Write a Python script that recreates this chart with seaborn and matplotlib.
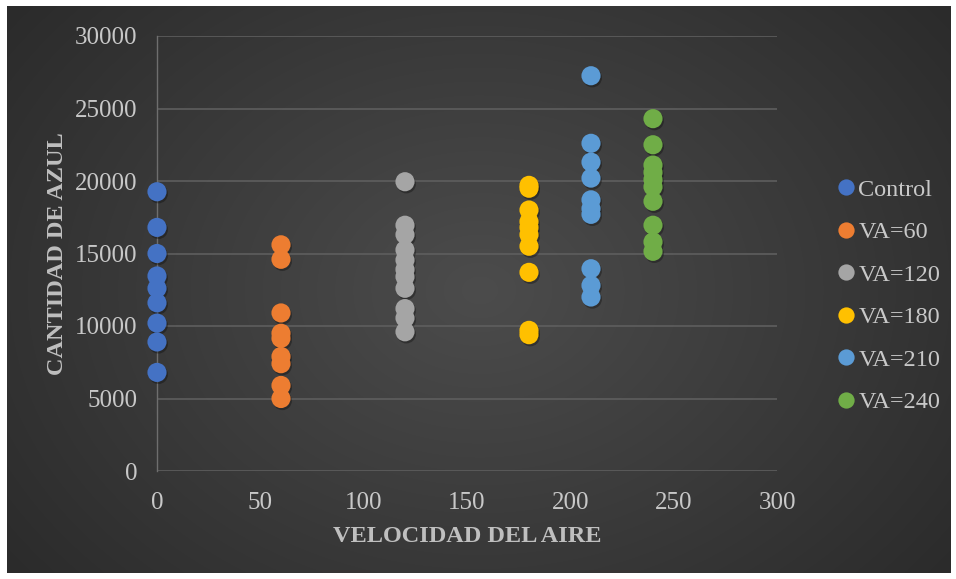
import numpy as np
import pandas as pd
import matplotlib
matplotlib.use("Agg")
import matplotlib.pyplot as plt
import matplotlib.patheffects as pe
import seaborn as sns

# Air speed groups and measured blue quantity per sample
groups = ["Control", "VA=60", "VA=120", "VA=180", "VA=210", "VA=240"]
speeds = [0, 60, 120, 180, 210, 240]
control = [19260, 16800, 15000, 13450, 12600, 11600, 10200, 8900, 6800]
va60 = [15600, 14600, 10900, 9500, 9150, 7900, 7400, 5900, 5000]
va120 = [19950, 16950, 16300, 15250, 14550, 13900, 13400, 12600, 11200, 10550, 9600]
va180 = [19700, 19500, 18000, 17200, 16800, 16300, 15500, 13700, 9700, 9400]
va210 = [27260, 22600, 21300, 20200, 18700, 18100, 17700, 13950, 12800, 12000]
va240 = [24300, 22500, 21100, 20600, 20100, 19600, 18600, 16950, 15800, 15150]
colors = ["#4472C4", "#ED7D31", "#A5A5A5", "#FFC000", "#5B9BD5", "#70AD47"]

values = [control, va60, va120, va180, va210, va240]
rows = []
for g, s, vals in zip(groups, speeds, values):
    for v in vals:
        rows.append({"grupo": g, "velocidad": s, "azul": v})
df = pd.DataFrame(rows)

sns.set_theme(style="white")
plt.rcParams["font.family"] = ["Liberation Serif", "DejaVu Serif"]

W, H = 956, 579
fig = plt.figure(figsize=(W / 100, H / 100), dpi=100)
fig.patch.set_facecolor("white")

# dark radial-gradient panel behind the chart
bg = fig.add_axes([7 / W, 1 - 573 / H, 943 / W, 567 / H])
bg.set_axis_off()
yy, xx = np.mgrid[0:300, 0:500]
cx, cy = 250, 150
r = np.sqrt(((xx - cx) / 260.0) ** 2 + ((yy - cy) / 200.0) ** 2)
r = np.clip(r, 0, 1.4) / 1.4
inner = np.array([0x4c, 0x4c, 0x4c]) / 255
outer = np.array([0x26, 0x26, 0x26]) / 255
img = inner[None, None, :] * (1 - r[..., None]) + outer[None, None, :] * r[..., None]
bg.imshow(img, aspect="auto", extent=[0, 1, 0, 1], interpolation="bilinear")
bg.set_xlim(0, 1)
bg.set_ylim(0, 1)

ax = fig.add_axes([157 / W, 1 - 471 / H, 620 / W, 435 / H])
ax.patch.set_alpha(0)

sns.scatterplot(data=df, x="velocidad", y="azul", hue="grupo", hue_order=groups,
                palette=colors, s=190, edgecolor="none", linewidth=0, ax=ax,
                legend=True, zorder=3)
for coll in ax.collections:
    coll.set_path_effects([pe.SimplePatchShadow(offset=(1, -1.5), alpha=0.3,
                                                shadow_rgbFace="black"),
                           pe.Normal()])
    coll.set_clip_on(False)

ax.set_xlim(0, 300)
ax.set_ylim(0, 30000)
ax.set_xticks(np.arange(0, 301, 50))
ax.set_yticks(np.arange(0, 30001, 5000))
ax.yaxis.grid(True, color="#5e5e5e", linewidth=1.2)
ax.xaxis.grid(False)
for side in ["top", "right", "bottom"]:
    ax.spines[side].set_visible(False)
ax.spines["left"].set_color("#6e6e6e")
ax.spines["left"].set_linewidth(1.0)
ax.tick_params(axis="both", length=0, labelsize=18, labelcolor="#c8c8c8")
ax.tick_params(axis="y", pad=14)
ax.tick_params(axis="x", pad=15)
ax.set_xlabel("VELOCIDAD DEL AIRE", fontsize=17.5, fontweight="bold", color="#bfbfbf", labelpad=9)
ax.set_ylabel("CANTIDAD DE AZUL", fontsize=17.5, fontweight="bold", color="#bfbfbf", labelpad=5)

handles, labels = ax.get_legend_handles_labels()
ax.get_legend().remove()
leg = fig.legend(handles, labels, loc="center left", bbox_to_anchor=(822 / W, 1 - 296 / H),
                 frameon=False, fontsize=17.5, labelspacing=0.84, handletextpad=-0.1,
                 markerscale=0.85, handlelength=1.2, borderaxespad=0)
for t in leg.get_texts():
    t.set_color("#c8c8c8")

fig.savefig("out.png", dpi=100)
